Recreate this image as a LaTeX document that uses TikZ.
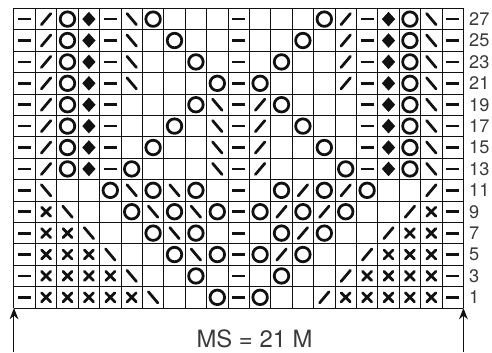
\documentclass[tikz,border=0pt]{standalone}
\usepackage{fontspec}
\setmainfont{TeX Gyre Heros}
\usetikzlibrary{arrows.meta}
\definecolor{chInk}{HTML}{111111}
\definecolor{chText}{HTML}{3A3A3A}
\tikzset{
  chart/.style={x=0.6cm, y=0.6cm, line join=round},
  chart grid/.style={draw=chInk, line width=0.8pt},
  chart sym/.style={draw=chInk, line width=2.2pt, line cap=round},
  chart label/.style={font=\fontsize{14.5}{16}\selectfont, text=chText,
    anchor=west, inner sep=0pt},
  chart arrow/.style={-{Stealth[length=9pt,width=7pt]}, draw=chInk,
    line width=0.8pt},
  % one pic per chart symbol
  pics/k/.style={code={}},
  pics/p/.style={code={\draw[chart sym,line cap=butt] (-0.3,0) -- (0.3,0);}},
  pics/o/.style={code={\draw[chart sym] (0,0) circle[radius=0.34];}},
  pics/d/.style={code={\fill[chInk] (0,0.34) -- (0.31,0) -- (0,-0.34) -- (-0.31,0) -- cycle;}},
  pics/r/.style={code={\draw[chart sym] (-0.22,-0.26) -- (0.22,0.26);}},
  pics/l/.style={code={\draw[chart sym] (-0.22,0.26) -- (0.22,-0.26);}},
  pics/x/.style={code={\draw[chart sym] (-0.21,-0.21) -- (0.21,0.21) (-0.21,0.21) -- (0.21,-0.21);}}
}
\begin{document}
\begin{tikzpicture}[chart]
\useasboundingbox (-0.654,-2.056) rectangle (22.336,14.393);
\draw[chart grid, step=0.6cm] (0,0) grid (21,14);
% rows 1,3,...,27 from the bottom up
\foreach \cells [count=\j] in {
  {p,x,x,x,x,x,l,k,k,o,p,o,k,k,r,x,x,x,x,x,p},
  {p,x,x,x,x,l,k,k,o,k,p,k,o,k,k,r,x,x,x,x,p},
  {p,x,x,x,l,k,k,o,l,o,p,o,r,o,k,k,r,x,x,x,p},
  {p,x,x,l,k,k,o,l,o,k,p,k,o,r,o,k,k,r,x,x,p},
  {p,x,l,k,k,o,l,o,l,o,p,o,r,o,r,o,k,k,r,x,p},
  {p,l,k,k,o,l,o,l,o,k,p,k,o,r,o,r,o,k,k,r,p},
  {p,r,o,d,p,o,k,k,k,l,p,r,k,k,k,o,p,d,o,l,p},
  {p,r,o,d,p,k,o,k,k,l,p,r,k,k,o,k,p,d,o,l,p},
  {p,r,o,d,p,k,k,o,k,l,p,r,k,o,k,k,p,d,o,l,p},
  {p,r,o,d,p,k,k,k,o,l,p,r,o,k,k,k,p,d,o,l,p},
  {p,r,o,d,p,l,k,k,k,o,p,o,k,k,k,r,p,d,o,l,p},
  {p,r,o,d,p,l,k,k,o,k,p,k,o,k,k,r,p,d,o,l,p},
  {p,r,o,d,p,l,k,o,k,k,p,k,k,o,k,r,p,d,o,l,p},
  {p,r,o,d,p,l,o,k,k,k,p,k,k,k,o,r,p,d,o,l,p}}{
  \foreach \s [count=\i] in \cells
    \pic at (\i-0.5,\j-0.5) {\s};
  \pgfmathtruncatemacro\rn{2*\j-1}
  \node[chart label] (row\rn) at (21.26,\j-0.5) {\rn};
}
\coordinate (lcorner) at (0,0);
\coordinate (rcorner) at (21,0);
\coordinate (lfoot) at (0,-2.06);
\coordinate (rfoot) at (21,-2.06);
\draw[chart arrow] (lfoot) -- (lcorner);
\draw[chart arrow] (rfoot) -- (rcorner);
\node[font=\fontsize{19}{22}\selectfont, text=chText, anchor=base] (ms)
  at (11.24,-1.86) {MS = 21 M};
\end{tikzpicture}
\end{document}
